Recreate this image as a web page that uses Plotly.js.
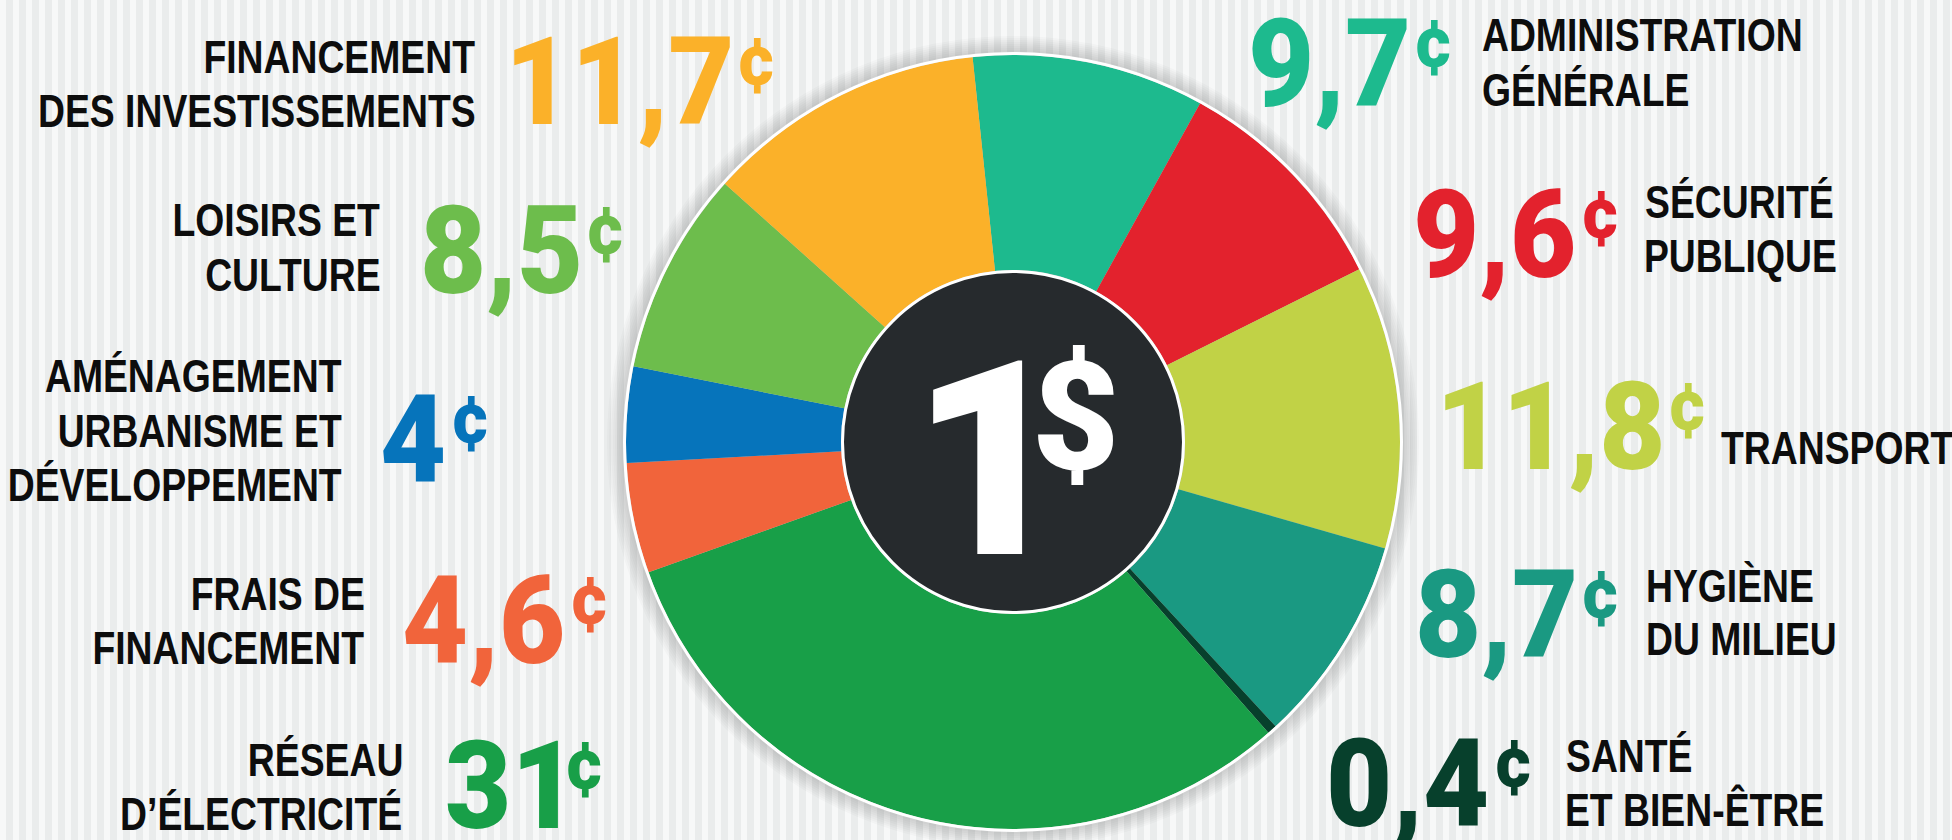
<!DOCTYPE html>
<html>
<head>
<meta charset="utf-8">
<script src="https://cdn.plot.ly/plotly-3.0.1.min.js"></script>
<style>
html, body { margin: 0; padding: 0; width: 1952px; height: 840px; overflow: hidden; }
body {
  background-color: #eeefef;
  background-image: repeating-linear-gradient(90deg, #f7f8f8 0px, #f7f8f8 6px, #eaecec 6px, #eaecec 13px);
}
#chart { width: 1952px; height: 840px; }
</style>
</head>
<body>
<div id="chart"></div>
<script>
// ---------------- DATA ----------------
const categories = [
  'ADMINISTRATION GÉNÉRALE', 'SÉCURITÉ PUBLIQUE', 'TRANSPORT', 'HYGIÈNE DU MILIEU',
  'SANTÉ ET BIEN-ÊTRE', 'RÉSEAU D’ÉLECTRICITÉ', 'FRAIS DE FINANCEMENT',
  'AMÉNAGEMENT URBANISME ET DÉVELOPPEMENT', 'LOISIRS ET CULTURE', 'FINANCEMENT DES INVESTISSEMENTS'
];
const labelLines = [
  ['ADMINISTRATION', 'GÉNÉRALE'],
  ['SÉCURITÉ', 'PUBLIQUE'],
  ['TRANSPORT'],
  ['HYGIÈNE', 'DU MILIEU'],
  ['SANTÉ', 'ET BIEN-ÊTRE'],
  ['RÉSEAU', 'D’ÉLECTRICITÉ'],
  ['FRAIS DE', 'FINANCEMENT'],
  ['AMÉNAGEMENT', 'URBANISME ET', 'DÉVELOPPEMENT'],
  ['LOISIRS ET', 'CULTURE'],
  ['FINANCEMENT', 'DES INVESTISSEMENTS']
];
const values = [9.7, 9.6, 11.8, 8.7, 0.4, 31, 4.6, 4, 8.5, 11.7];
const unit = '¢';
const centerAmount = '1';
const centerUnit = '$';

// ---------------- STYLE / LAYOUT ----------------
const colors = ['#1DBA8E', '#E3222D', '#C1D246', '#1A9982', '#07402C',
                '#189F48', '#F1643B', '#0674BB', '#6DBD4C', '#FBB129'];
const W = 1952, H = 840;
const CX = 1013, CY = 442;        // pie centre (px from top-left)
const R_OUT = 387, R_HOLE = 172;
const LABEL_FONT = {family: '"Liberation Sans", Arial, sans-serif', weight: 700};
const NUM_FONT = {family: 'Roboto, "Liberation Sans", Arial, sans-serif', weight: 900};
const CENTER_FONT = {family: 'Roboto, "Liberation Sans", Arial, sans-serif', weight: 900};
const LABEL_COLOR = '#0d0d0d';

// placement of each group (px): side, label ink edge, line cap-centres, number ink-left, number centre
const groupPos = [
  {side: 'R', edge: 1483, lines: [35.5, 90.5], num: 1252, numY: 62},
  {side: 'R', edge: 1646, lines: [202, 256], num: 1417, numY: 233},
  {side: 'R', edge: 1721, lines: [448], num: 1444, numY: 425},
  {side: 'R', edge: 1648, lines: [586, 639], num: 1420, numY: 613},
  {side: 'R', edge: 1567, lines: [755.5, 809.5], num: 1331, numY: 782},
  {side: 'L', edge: 401, lines: [759.5, 813.5], num: 447, numY: 784},
  {side: 'L', edge: 364, lines: [594, 648], num: 405, numY: 619},
  {side: 'L', edge: 342, lines: [376, 431, 485], num: 383, numY: 438},
  {side: 'L', edge: 380, lines: [220, 275], num: 425, numY: 249},
  {side: 'L', edge: 475, lines: [57, 111], num: 513, numY: 80.5}
];

// ---------------- TEXT MEASUREMENT ----------------
const ctx = document.createElement('canvas').getContext('2d');
function metrics(text, font, size) {
  ctx.font = font.weight + ' ' + size + 'px ' + font.family;
  return ctx.measureText(text);
}
function fitSize(glyph, font, inkHeight) {
  const m = metrics(glyph, font, 100);
  return inkHeight / ((m.actualBoundingBoxAscent + m.actualBoundingBoxDescent) / 100);
}
function inkWidth(text, font, size) {
  const m = metrics(text, font, size);
  return m.actualBoundingBoxLeft + m.actualBoundingBoxRight;
}
const sxList = [];
function makeAnn(text, font, size, color, baseline, inkLeft, inkRight, sx) {
  const m = metrics(text, font, size);
  const fa = m.fontBoundingBoxAscent, fd = m.fontBoundingBoxDescent;
  const cy = baseline + (fd - fa) / 2;
  let x, xanchor, start;
  if (inkLeft !== undefined) {
    start = inkLeft + m.actualBoundingBoxLeft * sx; x = start; xanchor = 'left';
  } else {
    x = inkRight + (m.width - m.actualBoundingBoxRight) * sx; start = x - m.width * sx; xanchor = 'right';
  }
  sxList.push({sx: sx, side: xanchor});
  return {
    ann: {
      xref: 'paper', yref: 'paper', x: x / W, y: 1 - cy / H,
      xanchor: xanchor, yanchor: 'middle', showarrow: false,
      borderpad: 0, borderwidth: 0, text: text,
      font: {family: font.family, size: size, color: color, weight: font.weight}
    },
    inkRight: start + m.actualBoundingBoxRight * sx
  };
}

const labelSize = fitSize('H', LABEL_FONT, 33);
const labelCap = metrics('H', LABEL_FONT, labelSize).actualBoundingBoxAscent;
const labelSx = 434 / inkWidth(labelLines[9][1], LABEL_FONT, labelSize);
const numSize = fitSize('1', NUM_FONT, 88);
const numH = metrics('1', NUM_FONT, numSize).actualBoundingBoxAscent;
const numSx = 155 / inkWidth('9,7', NUM_FONT, numSize);
const centSize = fitSize(unit, NUM_FONT, 56);
const centAsc = metrics(unit, NUM_FONT, centSize).actualBoundingBoxAscent;

const annotations = [];
values.forEach((v, i) => {
  const g = groupPos[i];
  labelLines[i].forEach((line, j) => {
    const base = g.lines[j] + labelCap / 2;
    const a = g.side === 'R'
      ? makeAnn(line, LABEL_FONT, labelSize, LABEL_COLOR, base, g.edge, undefined, labelSx)
      : makeAnn(line, LABEL_FONT, labelSize, LABEL_COLOR, base, undefined, g.edge, labelSx);
    annotations.push(a.ann);
  });
  const txt = String(v).replace('.', ',');
  const nb = g.numY + numH / 2;
  const n = makeAnn(txt, NUM_FONT, numSize, colors[i], nb, g.num, undefined, numSx);
  annotations.push(n.ann);
  const cTop = nb - numH + 2;
  const c = makeAnn(unit, NUM_FONT, centSize, colors[i], cTop + centAsc, n.inkRight + 10, undefined, numSx);
  annotations.push(c.ann);
});

// centre "1$"
const oneSize = fitSize(centerAmount, CENTER_FONT, 196);
const oneAsc = metrics(centerAmount, CENTER_FONT, oneSize).actualBoundingBoxAscent;
annotations.push(makeAnn(centerAmount, CENTER_FONT, oneSize, '#ffffff', 358 + oneAsc, 932, undefined, 1).ann);
const dolSize = fitSize(centerUnit, CENTER_FONT, 142);
const dolAsc = metrics(centerUnit, CENTER_FONT, dolSize).actualBoundingBoxAscent;
annotations.push(makeAnn(centerUnit, CENTER_FONT, dolSize, '#ffffff', 345 + dolAsc, 1038, undefined, 1).ann);

// ---------------- SHAPES ----------------
function circle(r, opts) {
  return Object.assign({
    type: 'circle', xref: 'paper', yref: 'paper',
    x0: (CX - r) / W, x1: (CX + r) / W,
    y0: 1 - (CY + r) / H, y1: 1 - (CY - r) / H
  }, opts);
}
const shapes = [];
for (let k = 0; k < 9; k++) {
  shapes.push(circle(R_OUT + 3 + 2 * k, {layer: 'below', fillcolor: 'rgba(60,60,60,0.022)', line: {width: 0}}));
}
shapes.push(circle(R_OUT + 1.5, {layer: 'above', fillcolor: 'rgba(0,0,0,0)', line: {color: '#ffffff', width: 3}}));
shapes.push(circle(R_HOLE - 1.5, {layer: 'above', fillcolor: '#262A2D', line: {color: '#ffffff', width: 3}}));

// ---------------- PLOT ----------------
const trace = {
  type: 'pie',
  labels: categories,
  values: values,
  sort: false,
  direction: 'clockwise',
  rotation: -6,
  hole: R_HOLE / R_OUT,
  marker: {colors: colors, line: {width: 0}},
  textinfo: 'none',
  hoverinfo: 'none',
  showlegend: false,
  domain: {
    x: [(CX - R_OUT) / W, (CX + R_OUT) / W],
    y: [1 - (CY + R_OUT) / H, 1 - (CY - R_OUT) / H]
  }
};
const layout = {
  width: W, height: H,
  margin: {l: 0, r: 0, t: 0, b: 0, pad: 0},
  paper_bgcolor: 'rgba(0,0,0,0)',
  plot_bgcolor: 'rgba(0,0,0,0)',
  showlegend: false,
  annotations: annotations,
  shapes: shapes
};
Plotly.newPlot('chart', [trace], layout, {displayModeBar: false, staticPlot: true}).then(gd => {
  // condense the annotation texts horizontally (the reference uses a condensed face)
  gd.querySelectorAll('g.annotation').forEach(g => {
    const i = +g.getAttribute('data-index');
    const s = sxList[i];
    if (!s || s.sx === 1) return;
    const t = g.querySelector('text.annotation-text');
    if (!t) return;
    t.style.transformBox = 'fill-box';
    t.style.transformOrigin = (s.side === 'left' ? 'left' : 'right') + ' center';
    t.style.transform = 'scaleX(' + s.sx + ')';
  });
});
</script>
</body>
</html>
